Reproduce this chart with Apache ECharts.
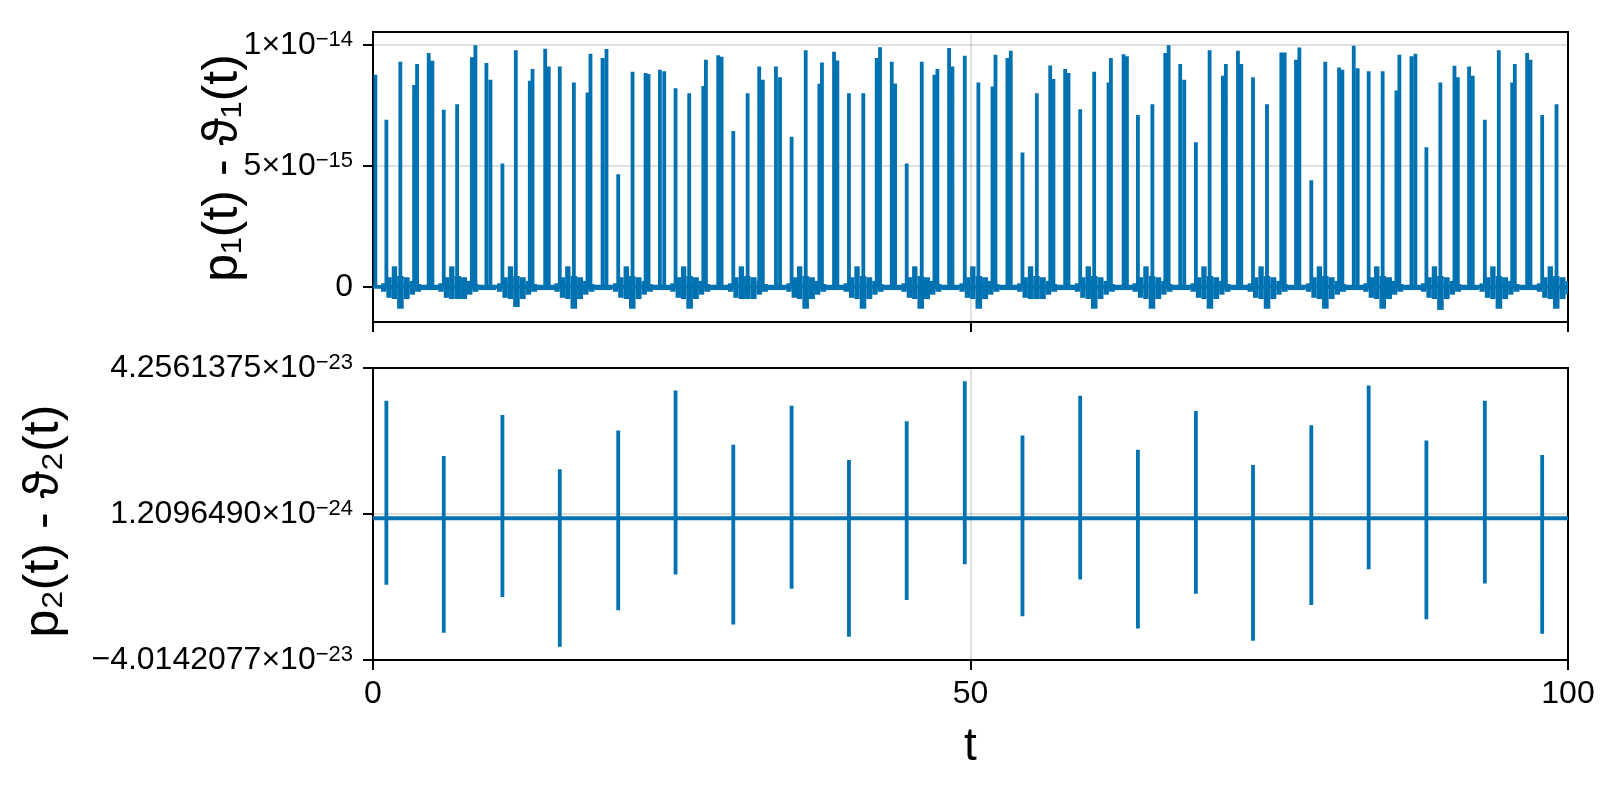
<!DOCTYPE html>
<html>
<head>
<meta charset="utf-8">
<script src="https://cdn.jsdelivr.net/npm/echarts@6/dist/echarts.min.js"></script>
<style>
html,body{margin:0;padding:0;background:#fff;}
#chart{width:1600px;height:800px;}
</style>
</head>
<body>
<div id="chart"></div>
<script>
// ---------------- data ----------------
// top panel: p1(t) - θ1(t), values in units of 1e-14
const p1Spikes = [
  [0.20,0.876],[1.12,0.69],[2.29,0.93],[3.44,0.834],[3.69,0.92],[4.66,0.966],[4.97,0.934],
  [5.92,0.731],[7.04,0.754],[8.27,0.948],[8.57,0.998],[9.49,0.924],[9.83,0.855],
  [10.83,0.51],[11.95,0.977],[13.12,0.851],[13.35,0.90],[14.41,0.983],[14.71,0.91],
  [15.63,0.91],[16.81,0.844],[17.95,0.803],[18.20,0.963],[19.21,0.945],[19.54,0.982],
  [20.52,0.465],[21.72,0.888],[22.81,0.883],[23.06,0.879],[24.01,0.897],[24.37,0.89],
  [25.32,0.82],[26.46,0.80],[27.64,0.83],[27.86,0.938],[28.89,0.957],[29.17,0.95],
  [30.15,0.644],[31.35,0.80],[32.32,0.91],[32.62,0.855],[33.72,0.91],[34.06,0.866],
  [35.03,0.62],[36.21,0.977],[37.35,0.839],[37.57,0.927],[38.58,0.971],[38.86,0.935],
  [39.83,0.80],[41.03,0.80],[42.15,0.945],[42.43,0.99],[43.41,0.93],[43.69,0.84],
  [44.66,0.51],[45.92,0.93],[46.98,0.876],[47.23,0.90],[48.21,0.986],[48.49,0.91],
  [49.52,0.954],[50.66,0.844],[51.84,0.828],[52.09,0.959],[53.09,0.945],[53.37,0.975],
  [54.35,0.555],[55.55,0.80],[56.67,0.914],[56.94,0.858],[57.92,0.90],[58.20,0.883],
  [59.18,0.734],[60.35,0.888],[61.55,0.844],[61.75,0.945],[62.81,0.961],[63.09,0.952],
  [64.01,0.71],[65.22,0.754],[66.30,0.966],[66.58,0.998],[67.55,0.92],[67.89,0.855],
  [68.86,0.597],[70.01,0.977],[71.12,0.872],[71.37,0.92],[72.38,0.975],[72.66,0.92],
  [73.64,0.866],[74.81,0.754],[76.01,0.968],[76.29,0.968],[77.24,0.938],[77.52,0.989],
  [78.52,0.44],[79.69,0.93],[80.84,0.906],[81.12,0.897],[82.07,0.996],[82.40,0.903],
  [83.32,0.89],[84.49,0.89],[85.64,0.811],[85.89,0.959],[86.90,0.952],[87.23,0.963],
  [88.15,0.577],[89.32,0.844],[90.50,0.913],[90.78,0.866],[91.72,0.91],[92.03,0.872],
  [93.04,0.69],[94.21,0.977],[95.33,0.844],[95.55,0.92],[96.58,0.966],[96.86,0.938],
  [97.84,0.71],[99.04,0.754]
];
// times of the noisy bursts near zero (same as the big excursions in the lower panel)
const burstTimes = [1.12,5.92,10.83,15.63,20.52,25.32,30.15,35.03,39.83,44.66,49.52,
  54.35,59.18,64.01,68.86,73.64,78.52,83.32,88.15,93.04,97.84];
// deepest negative value of each burst (units 1e-14)
const burstDepth = [-0.09,-0.05,-0.083,-0.09,-0.09,-0.09,-0.05,-0.09,-0.09,-0.09,-0.09,
  -0.05,-0.09,-0.09,-0.09,-0.09,-0.09,-0.09,-0.095,-0.09,-0.09];
// envelope of one burst: [from offset, to offset, low, high]  (low null = burst depth)
const burstEnvelope = [
  [-0.45,0.00,-0.02,0.015],
  [0.00,0.45,-0.045,0.04],
  [0.45,0.90,-0.05,0.085],
  [0.90,1.45,null,0.045],
  [1.45,1.95,-0.05,0.04],
  [1.95,2.40,-0.032,0.025],
  [2.40,2.90,-0.02,0.012],
  [2.90,4.39,-0.013,0.009]
];
// bottom panel: p2(t) - θ2(t), values in units of 1e-23
const p2Max = [3.328,1.766,2.923,1.390,2.489,3.617,2.084,3.184,1.650,2.749,3.880,
  2.345,3.473,1.939,3.039,1.506,2.634,3.762,2.200,3.328,1.795];
const p2Min = [-1.880,-3.239,-2.227,-3.638,-2.603,-1.591,-3.008,-1.995,-3.355,-2.314,-1.301,
  -2.777,-1.735,-3.124,-2.140,-3.471,-2.458,-1.446,-2.863,-1.851,-3.268];

// ticks
const xTicks = [0, 50, 100];
const y1Ticks = [0, 0.5, 1];
const y1TickLabels = [['0',''],['5×10','−15'],['1×10','−14']];
const y2Ticks = [-4.0142077, 0.12096490, 4.2561375];
const y2TickLabels = [['−4.0142077×10','−23'],['1.2096490×10','−24'],['4.2561375×10','−23']];
const y1Range = [-0.1448, 1.0525];
const y2Range = [-4.0142077, 4.2561375];

// ---------------- build ----------------
const FONT = '"Liberation Sans","DejaVu Sans",Arial,sans-serif';
const BLUE = '#0072b2';
const GRIDC = 'rgba(0,0,0,0.12)';
const LW = 3.8;

const line1 = [[0,0]];
p1Spikes.forEach(([t,h]) => { line1.push([t,0],[t,h],[t,0]); });
line1.push([100,0]);

const bursts = [];
burstTimes.forEach((T,k) => {
  burstEnvelope.forEach(([a,b,lo,hi]) => {
    bursts.push([T+a, T+b, lo === null ? burstDepth[k] : lo, hi]);
  });
});

const line2 = [[0,0]];
burstTimes.forEach((T,k) => { line2.push([T,0],[T,p2Max[k]],[T,p2Min[k]],[T,0]); });
line2.push([100,0]);

function labelFmt(ticks, labels) {
  return function (v) {
    let best = 0;
    ticks.forEach((tv,i) => { if (Math.abs(tv - v) < Math.abs(ticks[best] - v)) best = i; });
    const [m,e] = labels[best];
    return e ? '{m|' + m + '}{e|' + e + '}' : '{m|' + m + '}';
  };
}
const rich = {
  m: {fontSize: 32, fontFamily: FONT, color: '#000', lineHeight: 32, verticalAlign: 'bottom'},
  e: {fontSize: 22, fontFamily: FONT, color: '#000', lineHeight: 22, padding: [0,0,14,0], verticalAlign: 'top'}
};
const axisLine = {show: true, onZero: false, lineStyle: {color: '#000', width: 2}};
const tickStyle = {color: '#000', width: 2};
const split = {show: true, lineStyle: {color: GRIDC, width: 2}};

function xAxis(gi, labels) {
  const ax = {
    gridIndex: gi, type: 'value', min: 0, max: 100, interval: 50,
    axisLine: axisLine,
    axisTick: {show: true, inside: false, length: 10, lineStyle: tickStyle, customValues: xTicks},
    axisLabel: {show: labels, customValues: xTicks, margin: 18, fontSize: 32, fontFamily: FONT, color: '#000'},
    splitLine: split
  };
  if (labels) {
    ax.name = 't'; ax.nameLocation = 'middle'; ax.nameGap = 64;
    ax.nameTextStyle = {fontSize: 46, fontFamily: FONT, color: '#000'};
    ax.nameMoveOverlap = false;
  }
  return ax;
}
function yAxis(gi, range, ticks, labels, name, gap, pad) {
  return {
    gridIndex: gi, type: 'value', min: range[0], max: range[1],
    axisLine: axisLine,
    axisTick: {show: true, inside: false, length: 10, lineStyle: tickStyle, customValues: ticks},
    axisLabel: {show: true, customValues: ticks, margin: 20, formatter: labelFmt(ticks, labels), rich: rich,
                fontSize: 32, fontFamily: FONT, color: '#000'},
    splitLine: split,
    name: name, nameLocation: 'middle', nameGap: gap, nameMoveOverlap: false,
    nameTextStyle: {fontSize: 50, fontFamily: FONT, color: '#000', padding: pad}
  };
}

const chart = echarts.init(document.getElementById('chart'), null, {renderer: 'canvas'});
chart.setOption({
  animation: false,
  backgroundColor: '#fff',
  grid: [
    {left: 373, right: 32, top: 32, height: 290, show: true, borderColor: '#000', borderWidth: 2, backgroundColor: 'transparent'},
    {left: 373, right: 32, top: 368, height: 292, show: true, borderColor: '#000', borderWidth: 2, backgroundColor: 'transparent'}
  ],
  xAxis: [xAxis(0, false), xAxis(1, true)],
  yAxis: [
    yAxis(0, y1Range, y1Ticks, y1TickLabels, 'p₁(t) - ϑ₁(t)', 125, [0,0,0,18]),
    yAxis(1, y2Range, y2Ticks, y2TickLabels, 'p₂(t) - ϑ₂(t)', 304, [0,14,0,0])
  ],
  series: [
    {type: 'custom', xAxisIndex: 0, yAxisIndex: 0, data: bursts, silent: true,
     encode: {x: [0,1], y: [2,3]},
     renderItem: function (params, api) {
       const cs = params.coordSys;
       const a = api.coord([api.value(0), api.value(3)]);
       const b = api.coord([api.value(1), api.value(2)]);
       const x0 = Math.max(a[0], cs.x), x1 = Math.min(b[0], cs.x + cs.width);
       if (x1 <= x0) return null;
       return {type: 'rect', shape: {x: x0, y: a[1], width: x1 - x0, height: b[1] - a[1]}, style: {fill: BLUE}};
     }},
    {type: 'line', xAxisIndex: 0, yAxisIndex: 0, data: line1, symbol: 'none', showSymbol: false, silent: true,
     lineStyle: {color: BLUE, width: LW}},
    {type: 'line', xAxisIndex: 1, yAxisIndex: 1, data: line2, symbol: 'none', showSymbol: false, silent: true,
     lineStyle: {color: BLUE, width: LW}}
  ]
});
</script>
</body>
</html>
